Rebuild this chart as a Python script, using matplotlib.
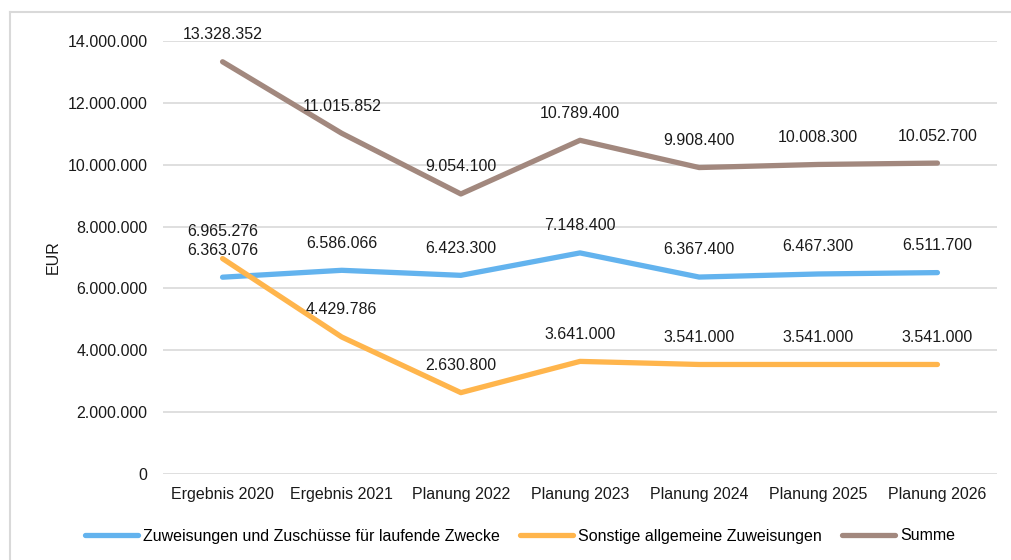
import matplotlib.pyplot as plt
from matplotlib.lines import Line2D

plt.rcParams['font.family'] = ['Liberation Sans', 'DejaVu Sans']
plt.rcParams['font.size'] = 11.5

categories = ["Ergebnis 2020", "Ergebnis 2021", "Planung 2022", "Planung 2023",
              "Planung 2024", "Planung 2025", "Planung 2026"]
zuweisungen = [6363076, 6586066, 6423300, 7148400, 6367400, 6467300, 6511700]
sonstige = [6965276, 4429786, 2630800, 3641000, 3541000, 3541000, 3541000]
summe = [13328352, 11015852, 9054100, 10789400, 9908400, 10008300, 10052700]

series = [
    ("Zuweisungen und Zuschüsse für laufende Zwecke", zuweisungen, "#63B3EE"),
    ("Sonstige allgemeine Zuweisungen", sonstige, "#FFB54C"),
    ("Summe", summe, "#A2887E"),
]


def fmt(v):
    return f"{v:,.0f}".replace(",", ".")


fig = plt.figure(figsize=(10.12, 5.6), dpi=100)
ax = fig.add_axes([163/1012, 1 - 474/560, (997 - 163)/1012, (474 - 41)/560])

x = list(range(len(categories)))
for name, vals, col in series:
    ax.plot(x, vals, color=col, lw=3.8, solid_capstyle='round', solid_joinstyle='round', label=name)
    for xi, v in zip(x, vals):
        ax.annotate(fmt(v), (xi, v), xytext=(0, 19.5), textcoords='offset points',
                    ha='center', va='center', fontsize=11.5, color='#1a1a1a')

ax.set_xlim(-0.5, len(categories) - 0.5)
ax.set_ylim(0, 14000000)
ax.set_yticks(range(0, 14000001, 2000000))
ax.set_yticklabels([fmt(v) for v in range(0, 14000001, 2000000)])
ax.set_xticks(x)
ax.set_xticklabels(categories)
ax.tick_params(axis='both', length=0, colors='#1a1a1a', labelsize=11.5)
ax.tick_params(axis='y', pad=11)
ax.tick_params(axis='x', pad=9)
ax.grid(axis='y', color='#D9D9D9', lw=1.2)
ax.set_axisbelow(True)
for s in ax.spines.values():
    s.set_visible(False)
ax.set_ylabel("EUR", fontsize=11.5, color='#1a1a1a')
ax.yaxis.set_label_coords(-(163 - 61)/834, 0.5)

fig.legend(loc='center', bbox_to_anchor=(520/1012, 1 - 536/560), ncol=3, frameon=False,
           handlelength=3.3, handletextpad=0.3, columnspacing=1.3, fontsize=11.5)

# chart frame (left and top edge)
fig.add_artist(Line2D([10/1012, 10/1012], [0, 1 - 12/560], color='#D9D9D9', lw=1.5, transform=fig.transFigure))
fig.add_artist(Line2D([10/1012, 1], [1 - 12/560, 1 - 12/560], color='#D9D9D9', lw=1.5, transform=fig.transFigure))

fig.savefig("out.png", dpi=100)
